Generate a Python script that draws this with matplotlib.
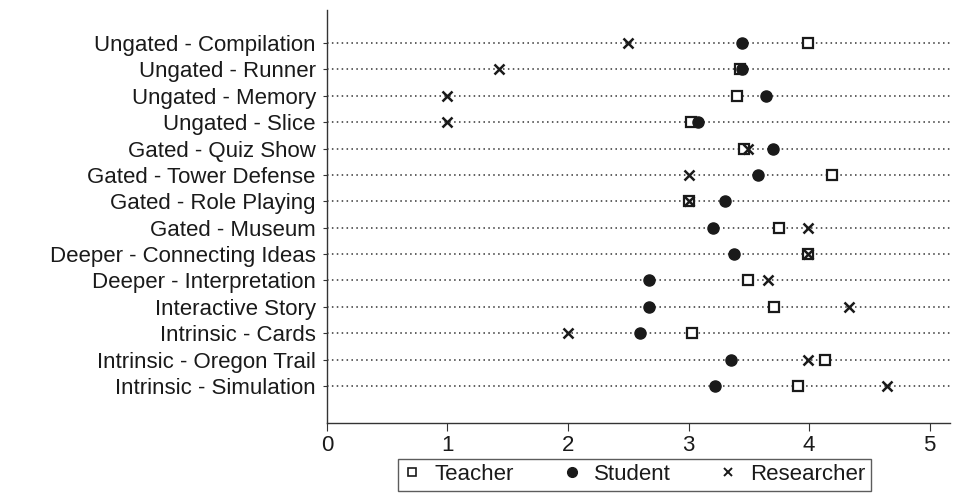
import matplotlib
matplotlib.use("Agg")
import matplotlib.pyplot as plt
from matplotlib.lines import Line2D

# ── Data ──────────────────────────────────────────────────────────────────────
games = [
    "Ungated - Compilation", "Ungated - Runner", "Ungated - Memory",
    "Ungated - Slice", "Gated - Quiz Show", "Gated - Tower Defense",
    "Gated - Role Playing", "Gated - Museum", "Deeper - Connecting Ideas",
    "Deeper - Interpretation", "Interactive Story", "Intrinsic - Cards",
    "Intrinsic - Oregon Trail", "Intrinsic - Simulation",
]
teacher    = [3.99, 3.43, 3.40, 3.02, 3.46, 4.19, 3.00, 3.75, 3.99, 3.49, 3.71, 3.03, 4.13, 3.91]
student    = [3.44, 3.44, 3.64, 3.08, 3.70, 3.58, 3.30, 3.20, 3.38, 2.67, 2.67, 2.60, 3.35, 3.22]
researcher = [2.50, 1.43, 1.00, 1.00, 3.49, 3.00, 3.00, 3.99, 3.99, 3.66, 4.33, 2.00, 3.99, 4.65]

x_ticks = [0, 1, 2, 3, 4, 5]

plt.rcParams["font.family"] = ["Liberation Sans", "DejaVu Sans"]
ink = "#1a1a1a"
fs = 16

fig = plt.figure(figsize=(9.6, 4.93), dpi=100)
ax = fig.add_axes([0.3406, 0.142, 0.649, 0.8377])

rows = list(range(1, len(games) + 1))

# dotted guide lines
for r in rows:
    ax.axhline(r, color="#333333", linestyle=(0, (1, 2.2)), linewidth=1.1, zorder=1)

ax.plot(teacher, rows, linestyle="none", marker="s", markersize=7.5,
        markerfacecolor="white", markeredgecolor=ink, markeredgewidth=1.6, zorder=3)
ax.plot(student, rows, linestyle="none", marker="o", markersize=8,
        markerfacecolor=ink, markeredgecolor=ink, zorder=4)
ax.plot(researcher, rows, linestyle="none", marker="x", markersize=7.5,
        markeredgecolor=ink, markeredgewidth=1.8, zorder=5)

ax.set_xlim(0, 5.17)
ax.set_ylim(15.4, -0.25)
ax.set_xticks(x_ticks)
ax.set_xticklabels([str(t) for t in x_ticks])
ax.set_yticks(rows)
ax.set_yticklabels(games)

for s in ["top", "right"]:
    ax.spines[s].set_visible(False)
for s in ["left", "bottom"]:
    ax.spines[s].set_color("#333333")
    ax.spines[s].set_linewidth(1.0)

ax.tick_params(axis="y", length=3, width=0.8, color="#333333",
               labelsize=fs, labelcolor=ink, pad=5)
ax.tick_params(axis="x", length=6, width=0.8, color="#333333",
               labelsize=fs, labelcolor=ink, pad=3)

handles = [
    Line2D([], [], linestyle="none", marker="s", markersize=6,
           markerfacecolor="white", markeredgecolor=ink, markeredgewidth=1.2),
    Line2D([], [], linestyle="none", marker="o", markersize=7,
           markerfacecolor=ink, markeredgecolor=ink),
    Line2D([], [], linestyle="none", marker="x", markersize=6,
           markeredgecolor=ink, markeredgewidth=1.4),
]
leg = fig.legend(handles, ["Teacher", "Student", "Researcher"],
                 loc="center", bbox_to_anchor=(0.661, 0.037), ncol=3,
                 fontsize=fs, frameon=True, fancybox=False,
                 edgecolor="#333333", handlelength=0.8, handletextpad=0.6,
                 columnspacing=2.2, borderpad=0.25, labelcolor=ink)
leg.get_frame().set_linewidth(1.0)

fig.savefig("out.png", dpi=100)
